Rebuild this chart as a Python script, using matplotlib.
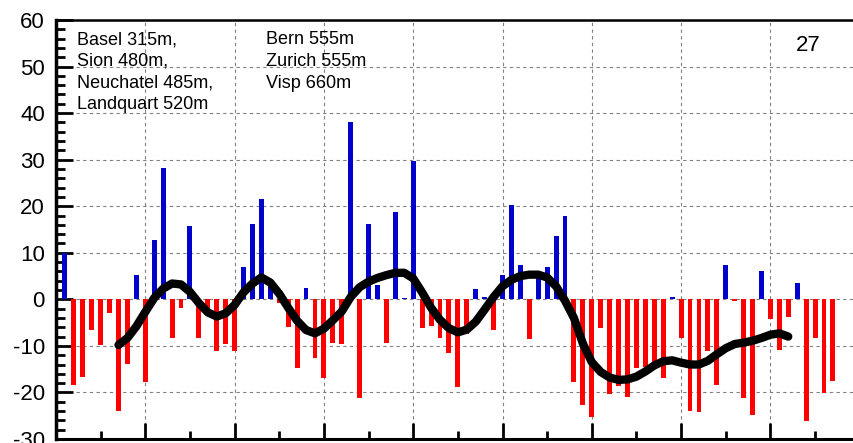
import matplotlib
matplotlib.use("Agg")
import matplotlib.pyplot as plt
from matplotlib.ticker import MultipleLocator

plt.rcParams['font.family'] = ['Liberation Sans', 'DejaVu Sans']
plt.rcParams['axes.unicode_minus'] = False

# ---- data ----
bar_x = list(range(1, 88))
bar_values = [10, -18.4, -16.7, -6.6, -9.9, -2.9, -24, -13.9, 5.2, -17.8,
              12.7, 28.3, -8.4, -1.8, 15.7, -8.4, -2.5, -11.1, -9.6, -11.2,
              6.9, 16.2, 21.6, 3, -0.8, -6, -14.7, 2.4, -12.6, -17,
              -9.3, -9.6, 38.1, -21.2, 16.2, 3, -9.3, 18.7, 0.2, 29.7,
              -6.2, -5.7, -8.2, -11.6, -18.9, -7.5, 2.2, 0.5, -6.6, 5.2,
              20.3, 7.4, -8.6, 4.5, 6.9, 13.5, 17.9, -17.8, -22.7, -25.2,
              -6.1, -20.3, -18.7, -20.9, -14.8, -14.5, -13.5, -17, 0.4, -8.4,
              -24, -24.2, -11.1, -18.5, 7.4, -0.3, -21.3, -24.8, 6, -4.3,
              -10.9, -3.8, 3.5, -26.1, -8.2, -20.2, -17.5]

curve_x = list(range(7, 83))
curve_values = [-9.8, -8.3, -5.8, -2.7, 0.3, 2.3, 3.4, 3.2, 1.6, -0.8,
                -2.8, -3.7, -3.0, -1.2, 1.5, 3.4, 4.7, 3.6, 1.2, -1.8,
                -4.6, -6.6, -7.3, -6.3, -4.5, -2.6, 0.5, 2.6, 3.8, 4.6,
                5.2, 5.7, 5.7, 4.5, 1.5, -1.8, -4.4, -6.2, -7.1, -6.5,
                -4.8, -2.2, 0.5, 2.8, 4.2, 5.0, 5.3, 5.3, 4.7, 2.8,
                -0.3, -4.0, -9.5, -13.5, -15.6, -16.8, -17.3, -17.2, -16.6, -15.5,
                -14.2, -13.3, -13.1, -13.6, -14.0, -14.0, -13.2, -11.8, -10.5, -9.6,
                -9.3, -8.9, -8.3, -7.6, -7.3, -8.0]

stations_col1 = ["Basel 315m,", "Sion 480m,", "Neuchatel 485m,", "Landquart 520m"]
stations_col2 = ["Bern 555m", "Zurich 555m", "Visp 660m"]
panel_label = "27"

y_ticks = list(range(-30, 61, 10))
y_tick_labels = [str(v) for v in y_ticks]

# ---- figure ----
W, H = 854, 443
fig = plt.figure(figsize=(W / 100, H / 100), dpi=100)
ax = fig.add_axes([56 / W, 4 / H, 803.7 / W, 419 / H])

colors = ['#0000CC' if v >= 0 else '#FF0000' for v in bar_values]
ax.bar(bar_x, bar_values, width=0.55, color=colors, zorder=2, linewidth=0)
ax.plot(curve_x, curve_values, color='black', linewidth=6,
        solid_capstyle='round', solid_joinstyle='round', zorder=3)

ax.set_xlim(0, 90)
ax.set_ylim(-30, 60)
ax.set_yticks(y_ticks)
ax.set_yticklabels(y_tick_labels)
ax.yaxis.set_minor_locator(MultipleLocator(2))
ax.xaxis.set_major_locator(MultipleLocator(10))
ax.xaxis.set_minor_locator(MultipleLocator(5))

ax.tick_params(axis='y', which='major', direction='in', length=12, width=2,
               labelsize=16, pad=8, right=False)
ax.tick_params(axis='y', which='minor', direction='in', length=6.5, width=2, right=False)
ax.tick_params(axis='x', which='major', direction='in', length=11.5, width=2,
               labelbottom=False, top=False)
ax.tick_params(axis='x', which='minor', direction='in', length=6, width=2, top=False)

ax.grid(True, which='major', color='#808080', linestyle=(0, (3, 3)), linewidth=0.8)
ax.set_axisbelow(True)

ax.spines['left'].set_linewidth(2.5)
ax.spines['top'].set_linewidth(1.8)
ax.spines['bottom'].set_linewidth(2.2)
ax.spines['right'].set_visible(False)

def px(x, y):
    return x / W, 1 - y / H

baselines = [44.5, 66, 87.5, 109]
for s, b in zip(stations_col1, baselines):
    fig.text(*px(77, b), s, fontsize=13, va='baseline', ha='left')
for s, b in zip(stations_col2, baselines):
    fig.text(*px(266, b), s, fontsize=13, va='baseline', ha='left')
fig.text(*px(796, 51), panel_label, fontsize=16, va='baseline', ha='left')

fig.savefig("out.png", dpi=100)
